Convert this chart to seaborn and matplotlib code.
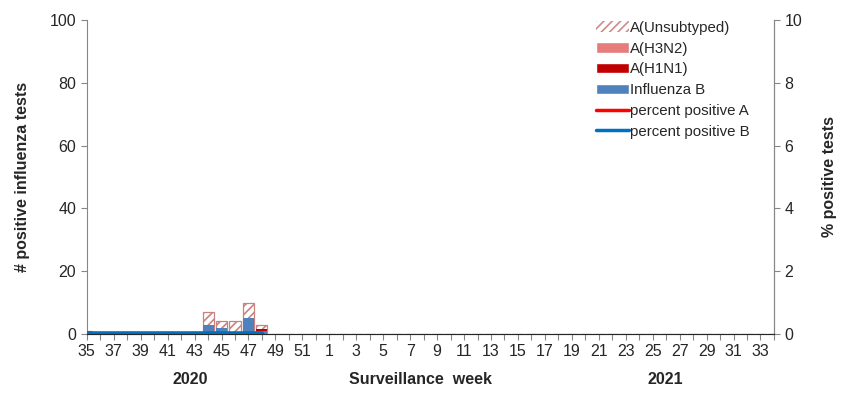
import numpy as np
import pandas as pd
import matplotlib
matplotlib.use("Agg")
import matplotlib.pyplot as plt
import seaborn as sns
from matplotlib.patches import Patch
from matplotlib.lines import Line2D

# surveillance weeks 35/2020 .. 34/2021
weeks = [str(w) for w in list(range(35, 53)) + list(range(1, 35))]
n = len(weeks)

# counts per week (only first weeks reported)
flu_b = [1, 0, 0, 0, 0, 0, 0, 0, 0, 3, 2, 0, 5, 1] + [0] * (n - 14)
a_h1n1 = [0, 0, 0, 0, 0, 0, 0, 0, 0, 0, 0, 0.5, 0, 0.5] + [0] * (n - 14)
a_h3n2 = [0] * n
a_unsub = [0, 0, 0, 0.6, 0, 0, 0.6, 0, 0.6, 4, 2, 3.5, 5, 1.5] + [0] * (n - 14)
# percent positive (right axis)
pct_a = [np.nan] * 9 + [0.02, 0.02, 0.02, 0.02, 0.02] + [np.nan] * (n - 14)
pct_b = [0.04] * 14 + [np.nan] * (n - 14)

df = pd.DataFrame({"week": weeks, "B": flu_b, "H1N1": a_h1n1,
                   "H3N2": a_h3n2, "Unsub": a_unsub})
df["x"] = np.arange(n)
df["c_b"] = df["B"]
df["c_h1"] = df["c_b"] + df["H1N1"]
df["c_h3"] = df["c_h1"] + df["H3N2"]
df["c_un"] = df["c_h3"] + df["Unsub"]

sns.set_style("ticks")
plt.rcParams["font.family"] = ["Liberation Sans", "DejaVu Sans"]
plt.rcParams["hatch.color"] = "#d08a88"
plt.rcParams["hatch.linewidth"] = 1.2

col_edge = "#c98280"
col_h3 = "#e67c7c"
col_h1 = "#c00000"
col_b = "#4f81bd"
col_la = "#ff0000"
col_lb = "#0070c0"
fs = 11.5

fig = plt.figure(figsize=(8.59, 3.98), dpi=100)
ax = fig.add_axes([0.101, 0.161, 0.800, 0.789])

# overlay cumulative totals, tallest first
sns.barplot(data=df, x="x", y="c_un", ax=ax, color="white", width=0.82,
            edgecolor=col_edge, linewidth=0.9, hatch="////", native_scale=True)
sns.barplot(data=df, x="x", y="c_h3", ax=ax, color=col_h3, width=0.82,
            linewidth=0, native_scale=True, saturation=1)
sns.barplot(data=df, x="x", y="c_h1", ax=ax, color=col_h1, width=0.82,
            linewidth=0, native_scale=True, saturation=1)
sns.barplot(data=df, x="x", y="c_b", ax=ax, color=col_b, width=0.82,
            linewidth=0, native_scale=True, saturation=1)

ax.set_xlim(0, n - 1)
ax.set_ylim(0, 100)
ax.set_yticks(range(0, 101, 20))
ax.set_xticks(df["x"])
ax.set_xticklabels([w if i % 2 == 0 else "" for i, w in enumerate(weeks)])
ax.tick_params(axis="both", labelsize=fs, length=4, color="#868686")
ax.tick_params(axis="x", pad=3)
ax.set_xlabel("")
ax.set_ylabel("# positive influenza tests", fontsize=fs, fontweight="bold", labelpad=14)
for s in ["left", "bottom", "right"]:
    ax.spines[s].set_color("#868686")
ax.spines["top"].set_visible(False)

ax2 = ax.twinx()
sns.lineplot(x=df["x"], y=pct_a, ax=ax2, color=col_la, linewidth=2.2)
sns.lineplot(x=df["x"], y=pct_b, ax=ax2, color=col_lb, linewidth=2.6)
ax2.set_ylim(0, 10)
ax2.set_yticks(range(0, 11, 2))
ax2.tick_params(axis="y", labelsize=fs, length=4, color="#868686")
ax2.set_ylabel("% positive tests", fontsize=fs, fontweight="bold", labelpad=14)
ax2.spines["top"].set_visible(False)
ax2.spines["right"].set_color("#868686")
ax2.spines["left"].set_visible(False)
ax2.set_xlim(0, n - 1)

fig.text(0.221, 0.035, "2020", ha="center", fontsize=fs, fontweight="bold")
fig.text(0.49, 0.035, "Surveillance  week", ha="center", fontsize=fs, fontweight="bold")
fig.text(0.774, 0.035, "2021", ha="center", fontsize=fs, fontweight="bold")

handles = [
    Patch(facecolor="white", edgecolor="#d08a88", hatch="////", linewidth=0),
    Patch(facecolor=col_h3),
    Patch(facecolor=col_h1),
    Patch(facecolor=col_b),
    Line2D([], [], color=col_la, linewidth=2.5),
    Line2D([], [], color=col_lb, linewidth=2.5),
]
labels = ["A(Unsubtyped)", "A(H3N2)", "A(H1N1)", "Influenza B",
          "percent positive A", "percent positive B"]
ax2.legend(handles, labels, loc="upper left", bbox_to_anchor=(0.733, 1.016),
           frameon=False, fontsize=10.8, handlelength=2.2, handleheight=0.7,
           handletextpad=0.05, labelspacing=0.45, borderaxespad=0)

fig.savefig("out.png", dpi=100)
